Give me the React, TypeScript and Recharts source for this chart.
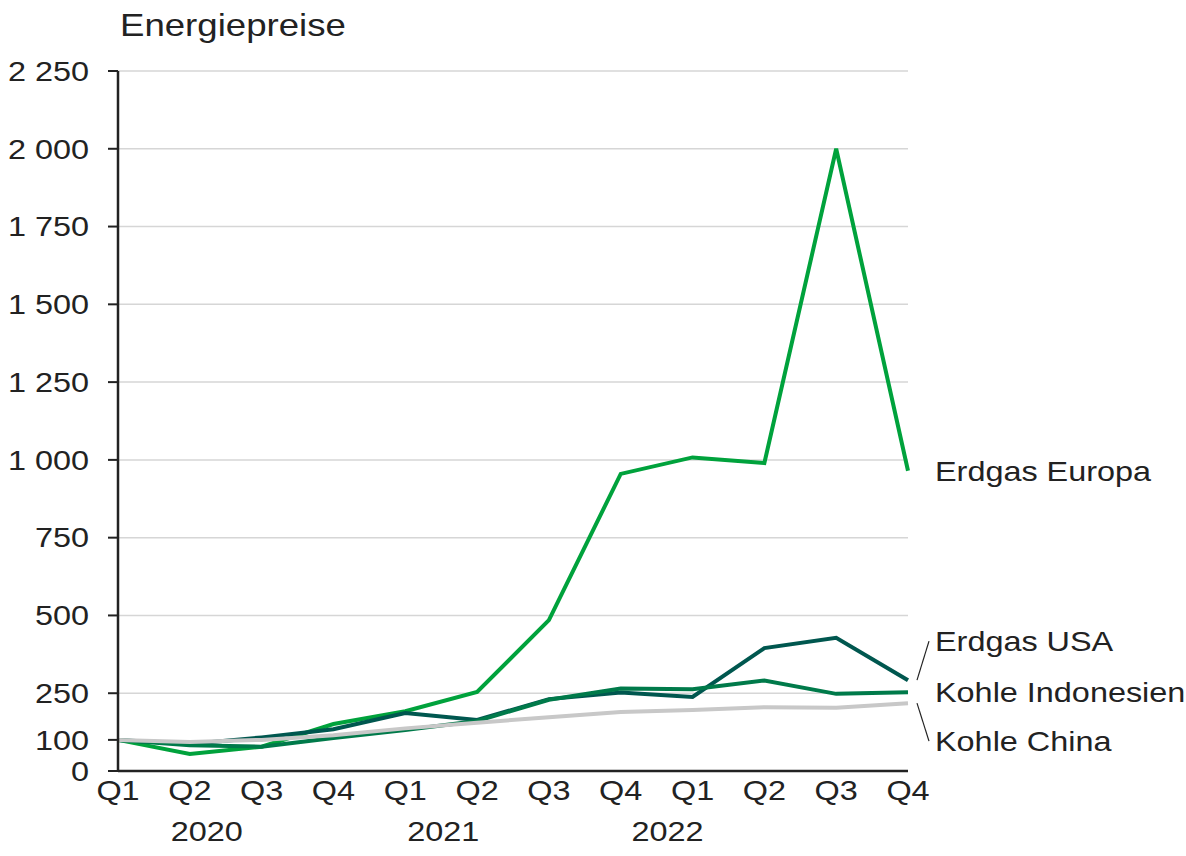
import React from "react";
import { LineChart, Line, XAxis, YAxis, CartesianGrid } from "recharts";

const quarters = ["Q1", "Q2", "Q3", "Q4", "Q1", "Q2", "Q3", "Q4", "Q1", "Q2", "Q3", "Q4"];
const years = ["2020", "2020", "2020", "2020", "2021", "2021", "2021", "2021", "2022", "2022", "2022", "2022"];

const erdgasEuropa = [100, 55, 78, 151, 192, 254, 485, 955, 1008, 990, 2000, 965];
const erdgasUSA = [100, 87, 108, 134, 186, 164, 231, 252, 238, 395, 428, 292];
const kohleIndonesien = [100, 83, 78, 106, 132, 161, 229, 265, 263, 291, 248, 253];
const kohleChina = [100, 93, 100, 115, 137, 155, 173, 190, 196, 205, 203, 218];

const yTicks = [0, 100, 250, 500, 750, 1000, 1250, 1500, 1750, 2000, 2250];
const gridValues = [250, 500, 750, 1000, 1250, 1500, 1750, 2000, 2250];

// year label sits under one quarter tick, nudged sideways
const yearLabels = [
  { year: "2020", index: 1, dx: 17 },
  { year: "2021", index: 4, dx: 38 },
  { year: "2022", index: 8, dx: -25 },
];

const data = quarters.map((q, i) => ({
  key: `${years[i]} ${q}`,
  q,
  europa: erdgasEuropa[i],
  usa: erdgasUSA[i],
  indo: kohleIndonesien[i],
  china: kohleChina[i],
}));

const FONT = "'Liberation Sans', Arial, sans-serif";
const FS = 27;
const SX = 1.2;
const TEXT = "#222";

const series = [
  { key: "europa", name: "Erdgas Europa", color: "#00A23C", dy: 0, leader: false },
  { key: "usa", name: "Erdgas USA", color: "#00574F", dy: -39, leader: true },
  { key: "indo", name: "Kohle Indonesien", color: "#007A4A", dy: 0, leader: false },
  { key: "china", name: "Kohle China", color: "#C8C8C8", dy: 38, leader: true },
];

const fmt = (v: number) => String(v).replace(/\B(?=(\d{3})+(?!\d))/g, " ");

function YTick({ x, y, payload }: any) {
  return (
    <text
      transform={`translate(${x},${y}) scale(${SX},1)`}
      textAnchor="end"
      dy="0.36em"
      fontSize={FS}
      fontFamily={FONT}
      fill={TEXT}
    >
      {fmt(payload.value)}
    </text>
  );
}

function XTick({ x, y, payload, index }: any) {
  const yl = yearLabels.find((l) => l.index === index);
  return (
    <g>
      <text
        transform={`translate(${x},${y + 21}) scale(${SX},1)`}
        textAnchor="middle"
        fontSize={FS}
        fontFamily={FONT}
        fill={TEXT}
      >
        {String(payload.value).split(" ")[1]}
      </text>
      {yl ? (
        <text
          transform={`translate(${x + yl.dx},${y + 62}) scale(${SX},1)`}
          textAnchor="middle"
          fontSize={FS}
          fontFamily={FONT}
          fill={TEXT}
        >
          {yl.year}
        </text>
      ) : null}
    </g>
  );
}

function endLabel(s: (typeof series)[number]) {
  return (props: any) => {
    const { x, y, index } = props;
    if (index !== data.length - 1) return null;
    return (
      <g>
        {s.leader ? (
          <line x1={x + 9} y1={y} x2={x + 21} y2={y + s.dy} stroke="#222" strokeWidth={1.2} />
        ) : null}
        <text
          transform={`translate(${x + 27},${y + s.dy}) scale(${SX},1)`}
          dy="0.36em"
          fontSize={FS}
          fontFamily={FONT}
          fill={TEXT}
        >
          {s.name}
        </text>
      </g>
    );
  };
}

export default function App() {
  return (
    <div style={{ position: "absolute", left: 0, top: 0, width: 1186, height: 856, background: "#fff" }}>
      <div
        style={{
          position: "absolute",
          left: 120,
          top: 10,
          fontFamily: FONT,
          fontSize: 30.5,
          lineHeight: "30.5px",
          color: TEXT,
          transform: `scaleX(${SX})`,
          transformOrigin: "left top",
          whiteSpace: "nowrap",
        }}
      >
        Energiepreise
      </div>
      <LineChart width={1186} height={856} data={data} margin={{ top: 71, right: 278, bottom: 0, left: 0 }}>
        <CartesianGrid vertical={false} horizontalValues={gridValues} stroke="#d6d6d6" strokeWidth={1.5} />
        <XAxis
          dataKey="key"
          height={85}
          interval={0}
          tickLine={false}
          axisLine={{ stroke: "#222", strokeWidth: 2.5 }}
          tick={<XTick />}
        />
        <YAxis
          width={118}
          domain={[0, 2250]}
          ticks={yTicks}
          interval={0}
          tickSize={10}
          tickMargin={19}
          tickLine={{ stroke: "#222", strokeWidth: 2 }}
          axisLine={{ stroke: "#222", strokeWidth: 2.5 }}
          tick={<YTick />}
        />
        {series.map((s) => (
          <Line
            key={s.key}
            dataKey={s.key}
            type="linear"
            stroke={s.color}
            strokeWidth={4}
            dot={false}
            isAnimationActive={false}
            label={endLabel(s)}
          />
        ))}
      </LineChart>
    </div>
  );
}
